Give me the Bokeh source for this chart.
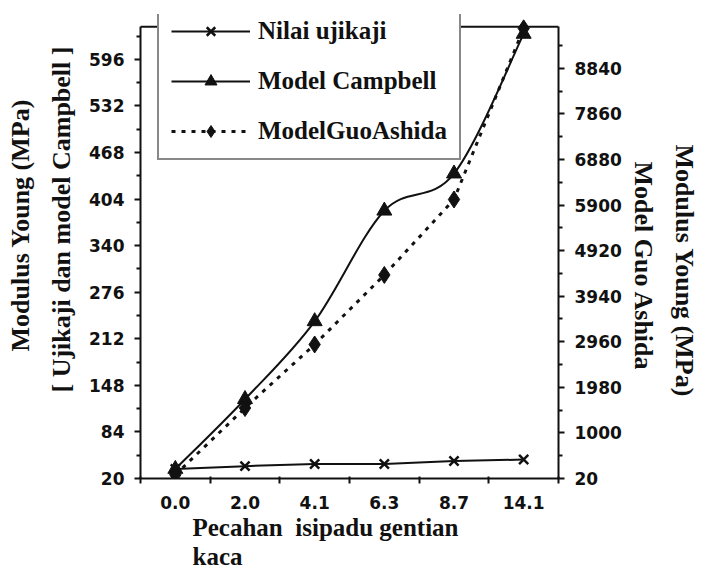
from bokeh.plotting import figure
from bokeh.models import (Range1d, LinearAxis, FixedTicker, Legend, LegendItem,
                          ColumnDataSource, Title, Span)
from bokeh.embed import file_html
from bokeh.resources import INLINE

# ---------------- data ----------------
categories = ["0.0", "2.0", "4.1", "6.3", "8.7", "14.1"]
nilai_ujikaji = [33, 37, 40, 40, 44, 46]            # left axis (MPa)
model_campbell = [33, 129, 236, 388, 439, 631]      # left axis (MPa)
model_guo_ashida = [100, 1536, 2902, 4397, 6020, 9700]  # right axis (MPa)

left_ticks = [20, 84, 148, 212, 276, 340, 404, 468, 532, 596]
right_ticks = [20, 1000, 1980, 2960, 3940, 4920, 5900, 6880, 7860, 8840]
left_axis_max = 641
right_axis_max = 9734

INK = "#111111"
SERIF = "Liberation Serif"
SANS = "DejaVu Sans"

xs = list(range(len(categories)))

# frame extends a little above the plot box so the legend box can stick out above it
p = figure(width=706, height=569, output_backend="svg", toolbar_location=None,
           x_range=Range1d(-0.5, len(categories) - 0.5),
           y_range=Range1d(20, 657.7),
           min_border_left=140, min_border_right=144,
           min_border_top=14, min_border_bottom=88)
p.extra_y_ranges = {"guo": Range1d(20, 9998)}
p.xgrid.visible = False
p.ygrid.visible = False
p.outline_line_color = None
p.background_fill_color = "white"
p.border_fill_color = "white"

# --- x axis ---
xa = p.xaxis[0]
xa.ticker = FixedTicker(ticks=xs, minor_ticks=[i - 0.5 for i in range(len(categories) + 1)])
xa.major_label_overrides = {i: c for i, c in enumerate(categories)}
xa.major_tick_out = 0
xa.major_tick_in = 0
xa.minor_tick_out = 5
xa.minor_tick_in = 2
xa.minor_tick_line_width = 2
xa.minor_tick_line_color = INK
xa.axis_line_width = 2
xa.axis_line_color = INK
xa.major_label_standoff = 12
xa.major_label_text_font = SANS
xa.major_label_text_font_style = "bold"
xa.major_label_text_font_size = "17px"
xa.major_label_text_color = INK

# --- left axis ---
ya = p.yaxis[0]
ya.ticker = FixedTicker(ticks=left_ticks, minor_ticks=[t + 32 for t in left_ticks])
ya.bounds = (20, left_axis_max)
# --- right axis ---
ra = LinearAxis(y_range_name="guo", bounds=(20, right_axis_max))
ra.ticker = FixedTicker(ticks=right_ticks, minor_ticks=[t + 490 for t in right_ticks])
p.add_layout(ra, "right")

for ax in (ya, ra):
    ax.major_tick_out = 6
    ax.major_tick_in = 0
    ax.minor_tick_out = 4
    ax.minor_tick_in = 0
    ax.major_tick_line_width = 2
    ax.minor_tick_line_width = 2
    ax.major_tick_line_color = INK
    ax.minor_tick_line_color = INK
    ax.axis_line_width = 2
    ax.axis_line_color = INK
    ax.major_label_standoff = 10
    ax.major_label_text_font = SANS
    ax.major_label_text_font_style = "bold"
    ax.major_label_text_font_size = "17px"
    ax.major_label_text_color = INK

# top edge of the plot box
p.add_layout(Span(location=left_axis_max, dimension="width", line_color=INK, line_width=2))

# --- series ---
r_n_line = p.line(xs, nilai_ujikaji, line_color=INK, line_width=2)
r_n_pts = p.scatter(xs, nilai_ujikaji, marker="x", size=13, line_color=INK, line_width=2.5)

# Model Campbell: smoothed line (bezier segments through the data points)
n = len(xs)
def _pt(i):
    i = max(0, min(n - 1, i))
    return xs[i], model_campbell[i]
bz = dict(x0=[], y0=[], x1=[], y1=[], cx0=[], cy0=[], cx1=[], cy1=[])
for i in range(n - 1):
    p0, p1, p2, p3 = _pt(i - 1), _pt(i), _pt(i + 1), _pt(i + 2)
    bz["x0"].append(p1[0]); bz["y0"].append(p1[1])
    bz["x1"].append(p2[0]); bz["y1"].append(p2[1])
    bz["cx0"].append(p1[0] + (p2[0] - p0[0]) / 6.0)
    bz["cy0"].append(p1[1] + (p2[1] - p0[1]) / 6.0)
    bz["cx1"].append(p2[0] - (p3[0] - p1[0]) / 6.0)
    bz["cy1"].append(p2[1] - (p3[1] - p1[1]) / 6.0)
p.bezier(x0="x0", y0="y0", x1="x1", y1="y1", cx0="cx0", cy0="cy0", cx1="cx1", cy1="cy1",
         source=ColumnDataSource(bz), line_color=INK, line_width=2)
# hidden straight line used only for the legend swatch
r_c_leg = p.line(xs, model_campbell, line_color=INK, line_width=2, visible=False)
r_c_pts = p.scatter(xs, model_campbell, marker="triangle", size=15, fill_color=INK, line_color=INK)

r_g_line = p.line(xs, model_guo_ashida, line_color=INK, line_width=3, line_dash="4 6",
                  y_range_name="guo")
r_g_pts = p.scatter(xs, model_guo_ashida, marker="diamond", size=17, fill_color=INK,
                    line_color=INK, y_range_name="guo")

legend = Legend(items=[
    LegendItem(label="Nilai ujikaji", renderers=[r_n_line, r_n_pts]),
    LegendItem(label="Model Campbell", renderers=[r_c_leg, r_c_pts]),
    LegendItem(label="ModelGuoAshida", renderers=[r_g_line, r_g_pts]),
], location=(17, 318))
legend.label_text_font = SERIF
legend.label_text_font_style = "bold"
legend.label_text_font_size = "25px"
legend.label_text_color = INK
legend.glyph_width = 79
legend.glyph_height = 30
legend.label_height = 30
legend.spacing = 20
legend.padding = 12
legend.margin = 0
legend.label_standoff = 8
legend.border_line_color = INK
legend.border_line_width = 2
legend.background_fill_color = "white"
legend.background_fill_alpha = 1.0
legend.inactive_fill_alpha = 0.0
p.add_layout(legend)

# --- axis titles as side titles ---
def side_title(text, side, standoff, offset, size="26px"):
    t = Title(text=text, align="left", offset=offset, standoff=standoff,
              text_font=SERIF, text_font_style="bold", text_font_size=size,
              text_color=INK)
    p.add_layout(t, side)

side_title("[ Ujikaji dan model Campbell ]", "left", 21, 86)
side_title("Modulus Young (MPa)", "left", 0, 127)
side_title("Model Guo Ashida", "right", 8, 147)
side_title("Modulus Young (MPa)", "right", 12, 130)
side_title("Pecahan\u00a0 isipadu gentian", "below", 0, 52, size="25px")
side_title("kaca", "below", 0, 52, size="25px")

open("out.html", "w").write(file_html(p, INLINE))
